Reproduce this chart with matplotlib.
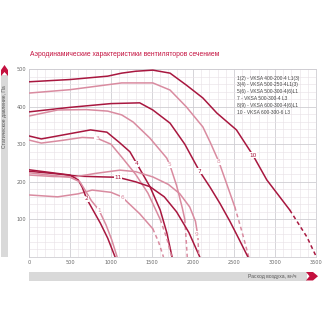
import matplotlib
matplotlib.use("Agg")
import matplotlib.pyplot as plt
from matplotlib.patches import Rectangle, Polygon
from matplotlib.ticker import MultipleLocator

# ---------------- data ----------------
title = "Аэродинамические характеристики вентиляторов сечением"
ylabel = "Статическое давление, Па"
xlabel = "Расход воздуха, м³/ч"
legend_lines = ["1(2) - VKSA 400-200-4 L1(3)",
                "3(4) - VKSA 500-250-4L1(3)",
                "5(6) - VKSA 500-300-4(6)L1",
                "7 - VKSA 500-300-4 L3",
                "8(9) - VKSA 600-300-4(6)L1",
                "10 - VKSA 600-300-6 L3"]
xticks = [0, 500, 1000, 1500, 2000, 2500, 3000, 3500]
yticks = [100, 200, 300, 400, 500]

c10_x = [0, 500, 960, 1130, 1300, 1510, 1720, 1920, 2120, 2290, 2530, 2730, 2900, 3180, 3390, 3505]
c10_y = [466, 472, 481, 489, 494, 497, 489, 457, 423, 383, 338, 271, 205, 125, 53, 0]
c8_x = [0, 500, 1130, 1510, 1720, 1920, 2120, 2210, 2316, 2410, 2510, 2600, 2680]
c8_y = [436, 445, 463, 463, 444, 399, 346, 305, 253, 195, 133, 65, 0]
c7_x = [0, 500, 1000, 1350, 1510, 1720, 1900, 2080, 2207, 2330, 2450, 2560, 2670]
c7_y = [386, 398, 408, 410, 391, 356, 300, 228, 186, 142, 95, 48, 0]
c5_x = [0, 350, 700, 960, 1130, 1270, 1475, 1680, 1717, 1800, 1870, 1900, 1915, 1930]
c5_y = [375, 391, 392, 388, 378, 359, 316, 263, 245, 190, 130, 100, 50, 0]
c4_x = [0, 150, 450, 750, 950, 1100, 1230, 1315, 1475, 1600, 1680, 1745]
c4_y = [322, 314, 326, 338, 332, 305, 280, 248, 187, 125, 65, 0]
c3_x = [0, 150, 400, 650, 828, 1000, 1130, 1300, 1450, 1600, 1680, 1740]
c3_y = [311, 303, 310, 318, 316, 300, 266, 220, 170, 100, 50, 0]
c11_x = [0, 300, 600, 900, 1084, 1300, 1475, 1650, 1800, 1950, 2083]
c11_y = [228, 222, 215, 213, 212, 200, 187, 160, 120, 65, 0]
c9_x = [0, 300, 560, 800, 1108, 1300, 1510, 1700, 1840, 1960, 2030, 2060, 2070]
c9_y = [218, 214, 213, 222, 231, 227, 213, 193, 168, 133, 95, 55, 0]
c6_x = [0, 350, 600, 770, 1000, 1134, 1190, 1350, 1510, 1580, 1640]
c6_y = [165, 160, 168, 178, 172, 160, 148, 115, 75, 40, 0]
c2_x = [0, 250, 500, 600, 650, 703, 780, 870, 960, 1050]
c2_y = [232, 225, 218, 205, 185, 155, 125, 90, 50, 0]
c1_x = [0, 250, 500, 620, 700, 760, 853, 940, 1010, 1075]
c1_y = [224, 218, 212, 200, 172, 150, 125, 85, 45, 0]

curve_names = ["10", "8", "7", "5", "4", "3", "11", "9", "6", "2", "1"]
curve_xs = [c10_x, c8_x, c7_x, c5_x, c4_x, c3_x, c11_x, c9_x, c6_x, c2_x, c1_x]
curve_ys = [c10_y, c8_y, c7_y, c5_y, c4_y, c3_y, c11_y, c9_y, c6_y, c2_y, c1_y]
curve_dark = [True, False, True, False, True, False, True, False, False, True, False]
dash_from = [3300, 2510, 99999, 1900, 99999, 1600, 99999, 2060, 1510, 99999, 99999]
label_x = [2730, 2316, 2083, 1717, 1315, 828, 1084, 2046, 1140, 703, 853]
label_y = [271, 253, 228, 245, 248, 316, 212, 60, 158, 155, 125]

DARK = "#a8173f"
PINK = "#d98ba0"
RED = "#c4113f"
GRAYBAR = "#d9d9d9"

W = H = 325
fig = plt.figure(figsize=(3.25, 3.25), dpi=100)
fig.patch.set_facecolor("white")

def fx(px):
    return px / W

def fy(py):
    return 1 - py / H

ax = fig.add_axes([fx(29), fy(257), fx(316) - fx(29), fy(69) - fy(257)])
ax.set_xlim(0, 3500)
ax.set_ylim(0, 500)
ax.xaxis.set_major_locator(MultipleLocator(500))
ax.xaxis.set_minor_locator(MultipleLocator(100))
ax.yaxis.set_major_locator(MultipleLocator(100))
ax.yaxis.set_minor_locator(MultipleLocator(20))
ax.grid(which="major", color="#cfcdd2", lw=0.6)
ax.grid(which="minor", color="#e9e3e8", lw=0.45)
ax.set_axisbelow(True)
ax.set_xticks(xticks)
ax.set_xticklabels([str(t) for t in xticks])
ax.set_yticks(yticks)
ax.set_yticklabels([str(t) for t in yticks])
ax.tick_params(which="both", length=0, labelsize=3.6, colors="#666666", pad=2)
for s in ax.spines.values():
    s.set_color("#cfcdd2")
    s.set_linewidth(0.6)

for name, xs, ys, dark, df, lx, ly in zip(curve_names, curve_xs, curve_ys,
                                           curve_dark, dash_from, label_x, label_y):
    col = DARK if dark else PINK
    sx = [x for x in xs if x <= df]
    sy = ys[:len(sx)]
    ax.plot(sx, sy, color=col, lw=1.1, solid_capstyle="round",
            solid_joinstyle="round", zorder=3)
    if len(sx) < len(xs):
        dx = xs[len(sx) - 1:]
        dy = ys[len(sx) - 1:]
        ax.plot(dx, dy, color=col, lw=1.1, ls=(0, (2.5, 2)), zorder=3)
    ax.text(lx, ly, name, color=col, fontsize=4.2, ha="center", va="center", zorder=4,
            bbox=dict(boxstyle="square,pad=0.1", fc="white", ec="none"))

# legend text
ax.text(0.725, 0.965, "\n".join(legend_lines), transform=ax.transAxes,
        fontsize=3.5, family="Liberation Sans", color="#444444", va="top", ha="left",
        linespacing=1.45, zorder=5)

# title
fig.text(fx(30), fy(55), title, fontsize=4.9, color=RED, ha="left", va="center",
         family="Liberation Sans")

# y label bar with chevron
fig.add_artist(Rectangle((fx(1), fy(257)), fx(8) - fx(1), fy(75) - fy(257),
                         transform=fig.transFigure, fc=GRAYBAR, ec="none"))
fig.add_artist(Polygon([(fx(1), fy(76)), (fx(1), fy(70)), (fx(4.5), fy(65)),
                        (fx(8), fy(70)), (fx(8), fy(76)), (fx(4.5), fy(72))],
                       closed=True, transform=fig.transFigure, fc=RED, ec="none"))
fig.text(fx(4.7), fy(117), ylabel, rotation=90, fontsize=3.6, color="#555555",
         ha="center", va="center", family="Liberation Sans")

# x label bar with chevron
fig.add_artist(Rectangle((fx(29), fy(280.5)), fx(307) - fx(29), fy(272) - fy(280.5),
                         transform=fig.transFigure, fc=GRAYBAR, ec="none"))
fig.add_artist(Polygon([(fx(306), fy(272)), (fx(313), fy(272)), (fx(318), fy(276.2)),
                        (fx(313), fy(280.5)), (fx(306), fy(280.5)), (fx(309.5), fy(276.2))],
                       closed=True, transform=fig.transFigure, fc=RED, ec="none"))
fig.text(fx(296), fy(276.5), xlabel, fontsize=3.6, color="#555555",
         ha="right", va="center", family="Liberation Sans")

fig.savefig("out.png", dpi=100)
